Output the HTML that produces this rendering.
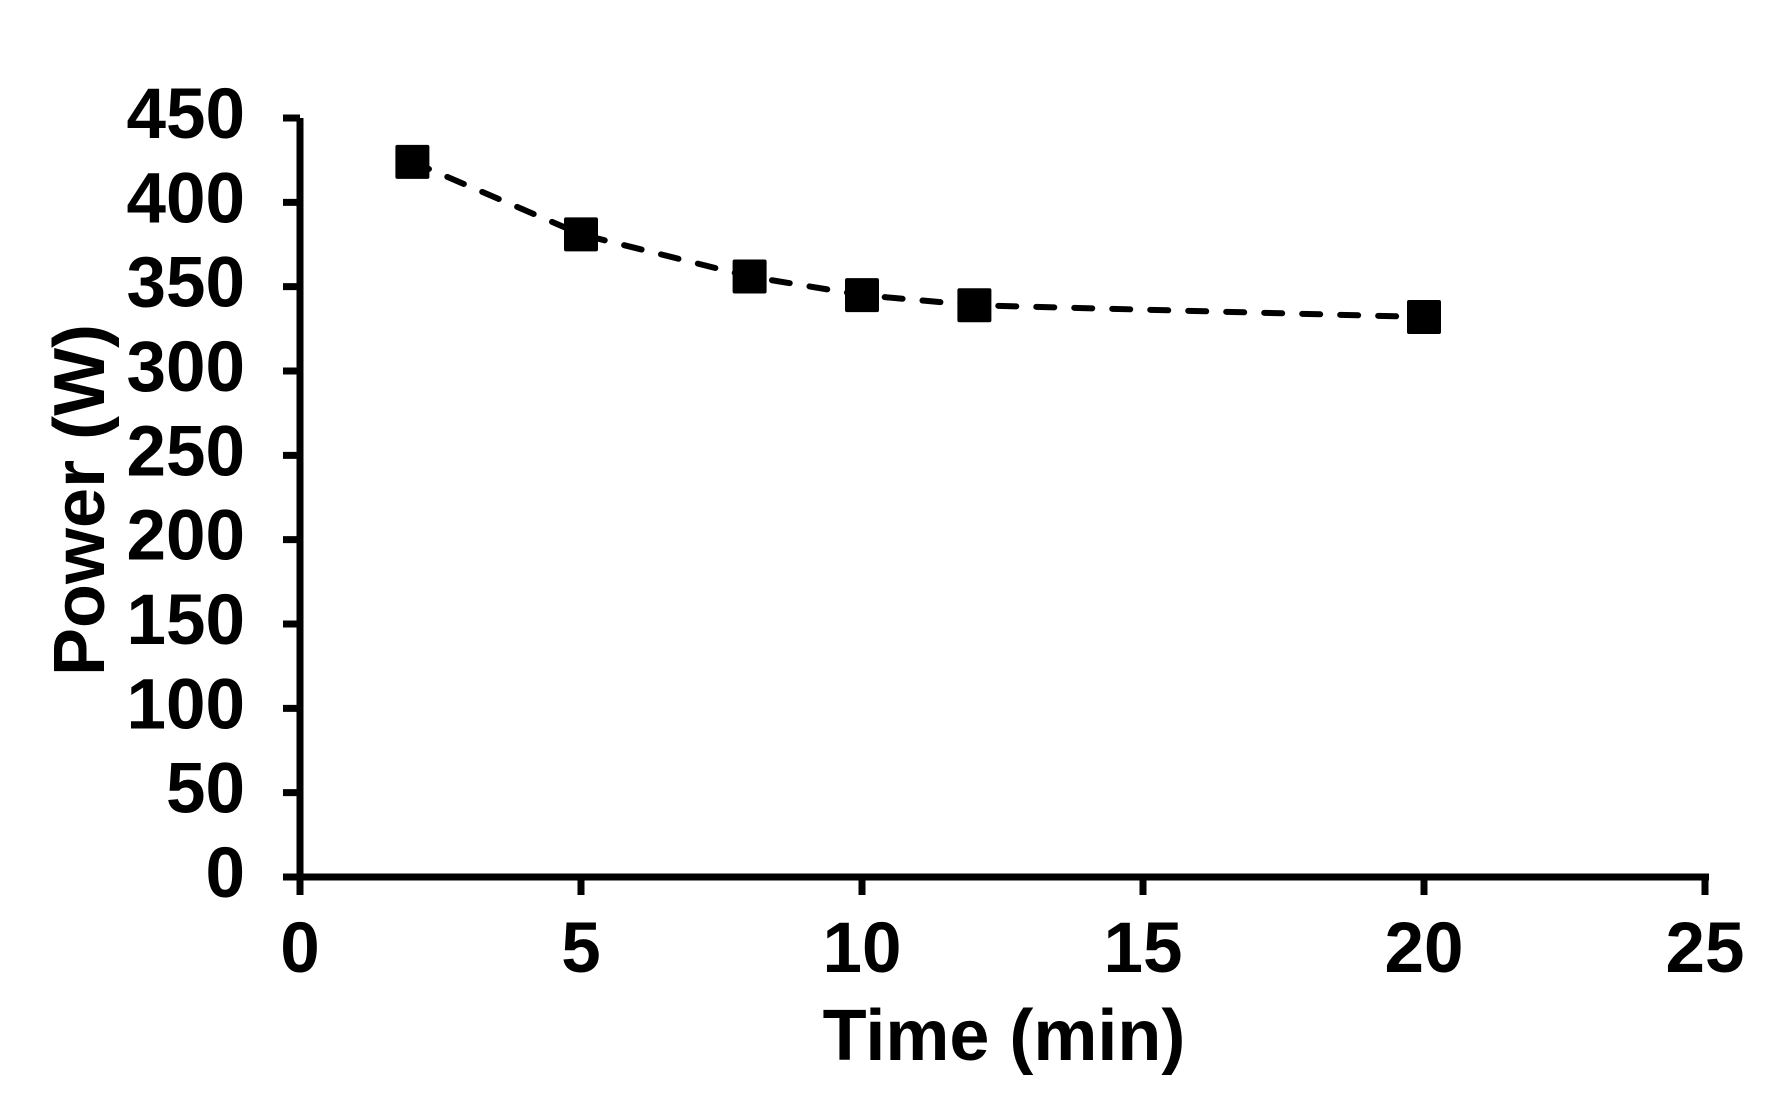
<!DOCTYPE html>
<html><head><meta charset="utf-8"><style>
html,body{margin:0;padding:0;background:#fff;}
svg{display:block;font-family:"Liberation Sans",Arial,sans-serif;font-weight:bold;}
</style></head><body>
<svg id="chart" width="1770" height="1098" viewBox="0 0 1770 1098" xmlns="http://www.w3.org/2000/svg">
<g id="axes"></g>
<g id="series"></g>
<text x="1004" y="1060" font-size="72" text-anchor="middle">Time (min)</text>
<text transform="translate(104,500) rotate(-90)" font-size="72" text-anchor="middle">Power (W)</text>
</svg>
<script>
const xTicks = [0, 5, 10, 15, 20, 25];
const yTicks = [0, 50, 100, 150, 200, 250, 300, 350, 400, 450];
const timeMin = [2, 5, 8, 10, 12, 20];
const powerW = [424, 381, 356, 345, 339, 332];

const NS = 'http://www.w3.org/2000/svg';
const x0 = 300, x1 = 1705, y0 = 877, y1 = 118;
function xs(v){ return x0 + (v - 0) / 25 * (x1 - x0); }
function ys(v){ return y0 - (v - 0) / 450 * (y0 - y1); }
function mk(tag, attrs, parent){
  const e = document.createElementNS(NS, tag);
  for (const k in attrs) e.setAttribute(k, attrs[k]);
  parent.appendChild(e);
  return e;
}
const axes = document.getElementById('axes');
const series = document.getElementById('series');

let e = mk('line', {x1: x0, y1: y1, x2: x0, y2: y0 + 18, stroke: '#000', 'stroke-width': 7}, axes);


e = mk('line', {x1: x0 - 17, y1: y0, x2: x1 + 4, y2: y0, stroke: '#000', 'stroke-width': 7}, axes);



yTicks.forEach(v => {
  const t = mk('line', {x1: x0 - 17, y1: ys(v), x2: x0, y2: ys(v), stroke: '#000', 'stroke-width': 7}, axes);
  
  
  const l = mk('text', {x: 245, y: ys(v) + 20, 'font-size': 71, 'text-anchor': 'end'}, axes);
  l.textContent = v;
  
  
});
xTicks.forEach(v => {
  const t = mk('line', {x1: xs(v), y1: y0, x2: xs(v), y2: y0 + 18, stroke: '#000', 'stroke-width': 7}, axes);
  
  
  const l = mk('text', {x: xs(v), y: 972, 'font-size': 71, 'text-anchor': 'middle'}, axes);
  l.textContent = v;
  
  
});

let d = '';
timeMin.forEach((t, i) => { d += (i ? ' L' : 'M') + xs(t) + ' ' + ys(powerW[i]); });
const line = mk('path', {d: d, fill: 'none', stroke: '#000', 'stroke-width': 6, 'stroke-dasharray': '18 20', 'stroke-linecap': 'round'}, series);



timeMin.forEach((t, i) => {
  const s = 34;
  const r = mk('rect', {x: xs(t) - s/2, y: ys(powerW[i]) - s/2, width: s, height: s, rx: 2, fill: '#000'}, series);
  
  
});
</script>
</body></html>
